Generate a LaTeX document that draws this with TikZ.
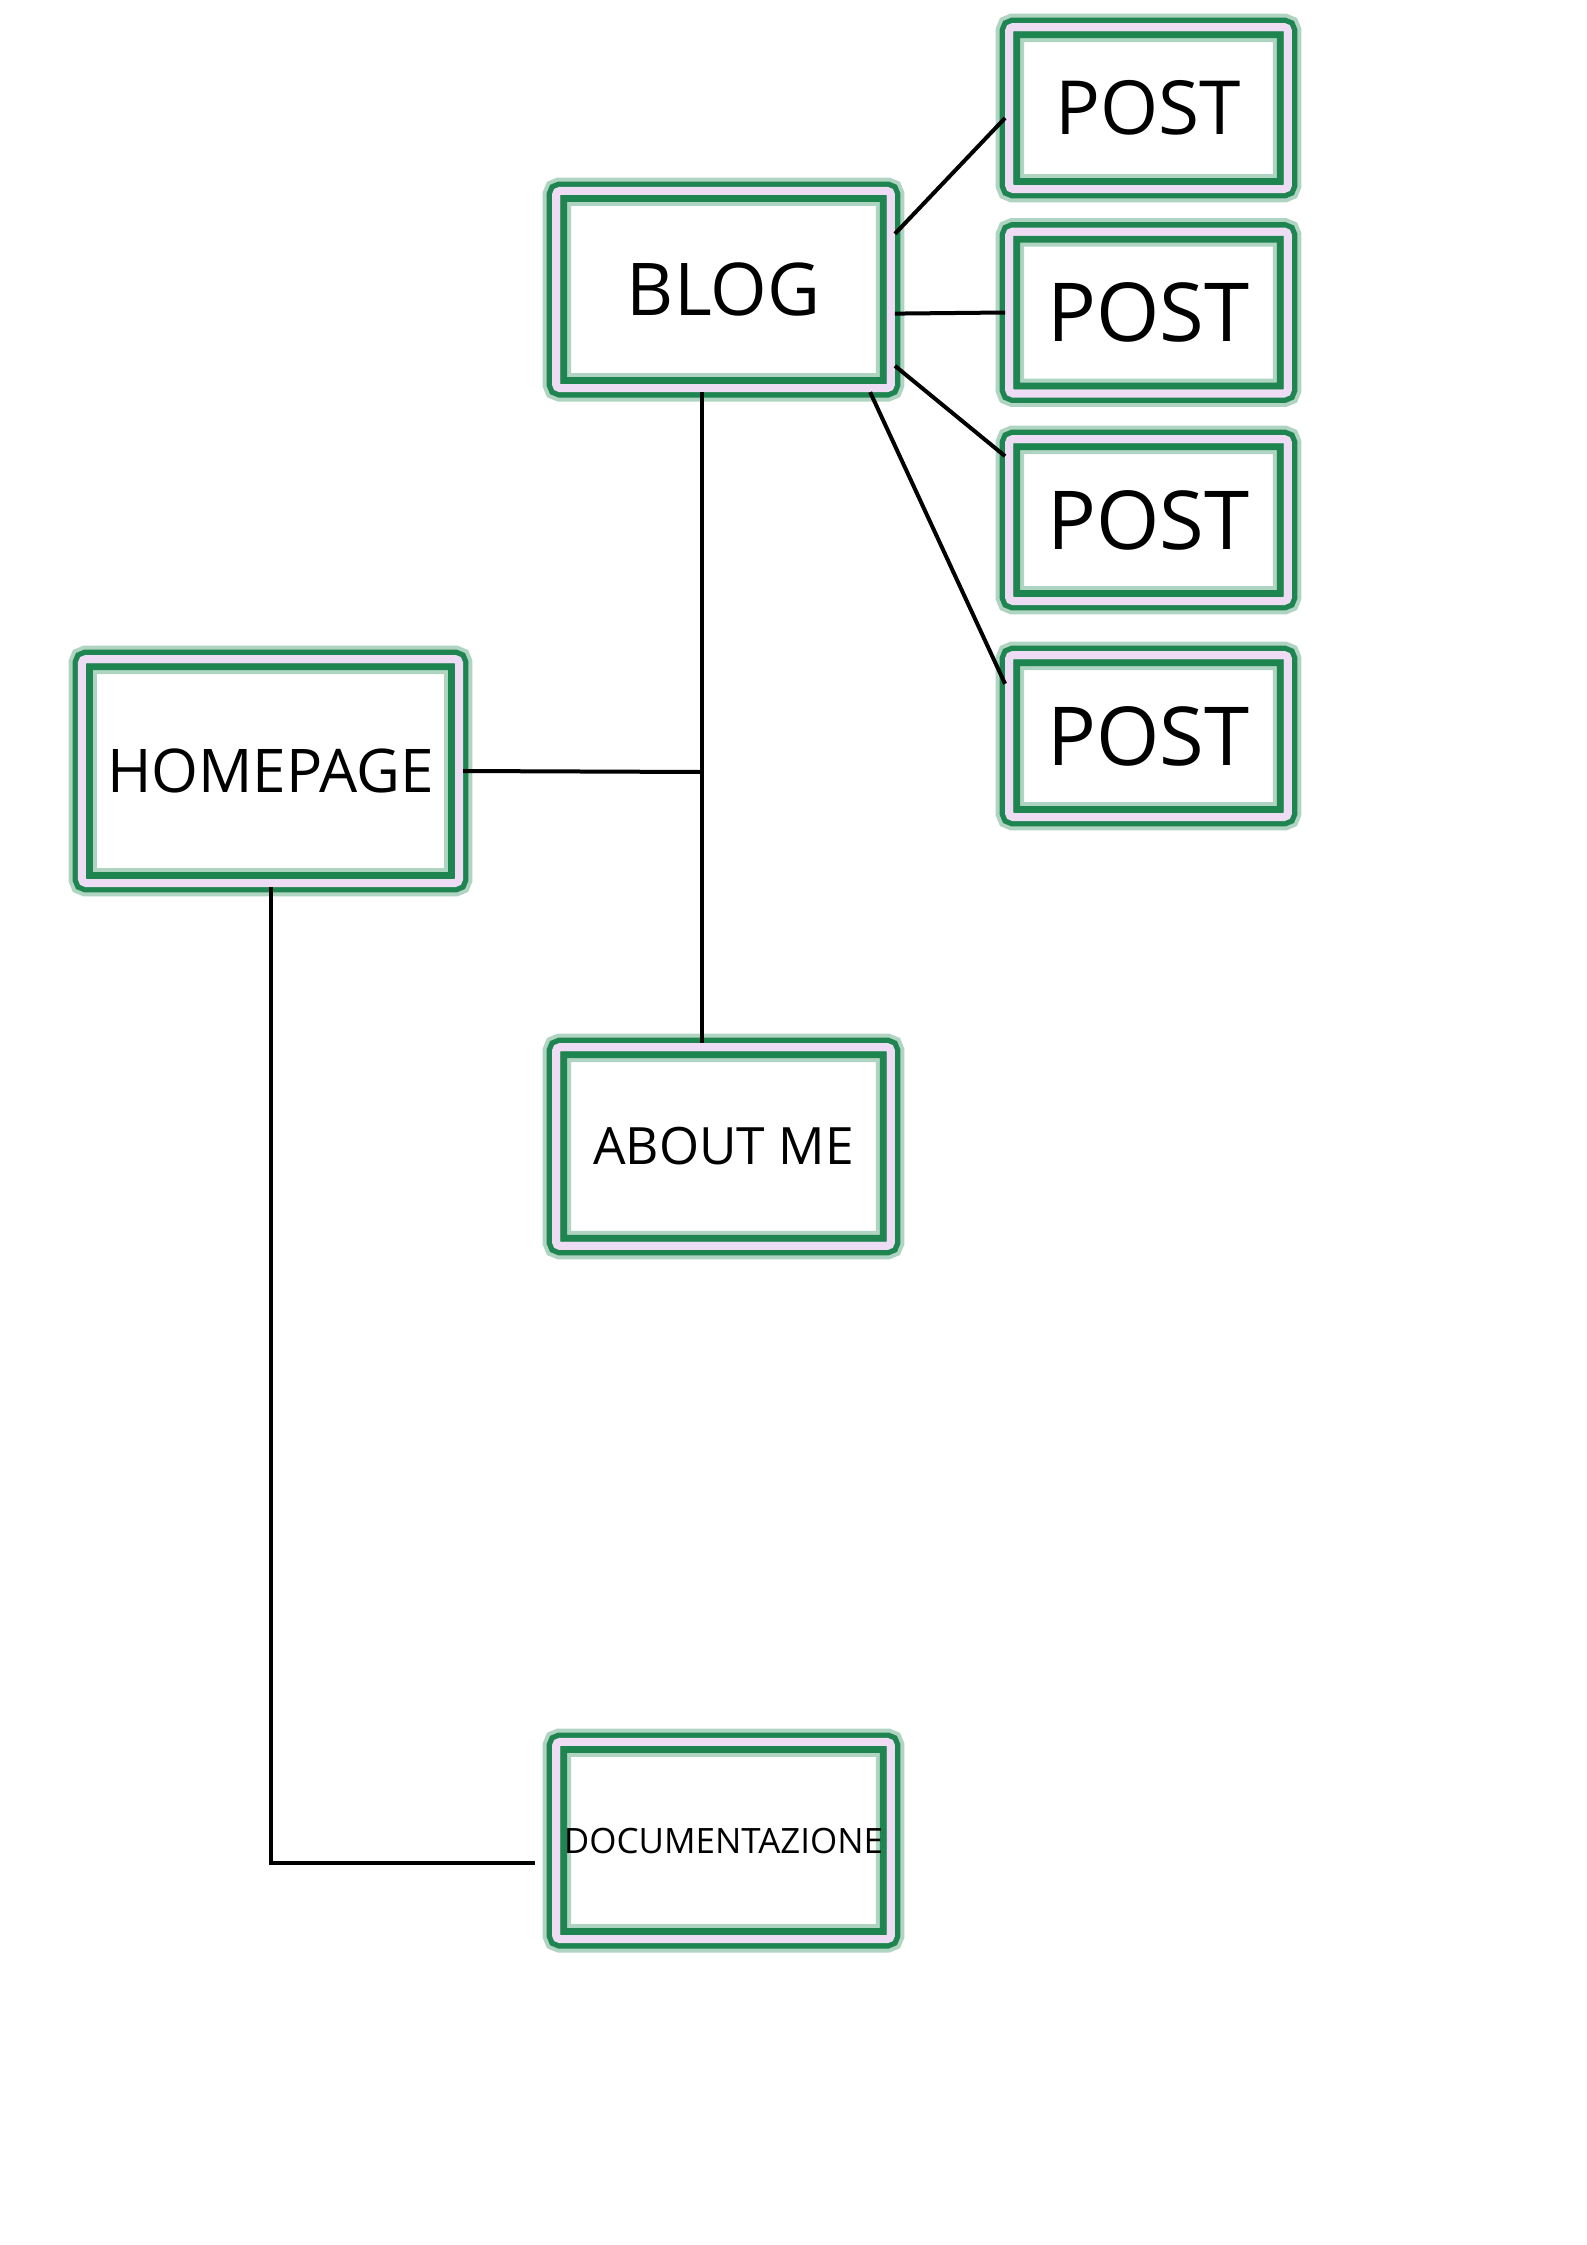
\documentclass[tikz,border=0pt]{standalone}
\usepackage{fontspec}
\setmainfont{Open Sans}
\usepackage{tikz}

\definecolor{boxgreen}{RGB}{30,132,80}
\definecolor{boxlilac}{RGB}{238,220,245}

\tikzset{
  pagebox/.style={rectangle, fill=white, draw=boxlilac, line width=3pt,
    rounded corners=1.5pt, inner sep=0pt,
    preaction={draw=boxgreen, line width=7pt,
      preaction={draw=boxgreen!35, line width=10pt}},
    path picture={
      \draw[boxgreen!35, line width=11.25pt] (path picture bounding box.south west) rectangle (path picture bounding box.north east);
      \draw[boxgreen, line width=8.25pt] (path picture bounding box.south west) rectangle (path picture bounding box.north east);
      \draw[boxlilac, line width=3pt] (path picture bounding box.south west) rectangle (path picture bounding box.north east);
    }},
  bigbox/.style={pagebox, minimum width=125.6pt, minimum height=74pt},
  postbox/.style={pagebox, minimum width=104.6pt, minimum height=60.75pt},
  link/.style={draw=black, line width=1.5pt}
}

\begin{document}
\begin{tikzpicture}[x=0.375pt, y=-0.375pt]
    \useasboundingbox (0,0) rectangle (1587,2245);

    % pages
    \node[pagebox, minimum width=141.4pt, minimum height=84pt,
      font=\fontsize{22.6}{26}\selectfont] (home) at (270.5,771) {HOMEPAGE};
    \node[bigbox, font=\fontsize{27.3}{31}\selectfont] (blog) at (723.5,289.5) {BLOG};
    \node[bigbox, minimum height=74.6pt,
      font=\fontsize{19.3}{22}\selectfont] (about) at (723.5,1146.5) {ABOUT ME};
    \node[bigbox, font=\fontsize{13.1}{15}\selectfont] (docs) at (723.5,1840.5) {DOCUMENTAZIONE};

    \foreach \n/\y/\s in {1/108/28,2/312.5/30.5,3/520/30.5,4/736/30.5}
      \node[postbox, font=\fontsize{\s}{\s}\selectfont] (post\n) at (1148.5,\y) {POST};

    % links
    \coordinate (trunk) at (702,772);
    \coordinate (docend) at (535,1863);

    \draw[link] (trunk |- blog.south) -- (trunk |- about.north);
    \draw[link] (home.east) -- (trunk);
    \draw[link] (home.south) -- (home.south |- docend) -- (docend);

    \foreach \n/\a/\b in {1/18/184,2/352.5/180,3/336/156.3,4/325.4/160.9}
      \draw[link] (blog.\a) -- (post\n.\b);
\end{tikzpicture}
\end{document}
